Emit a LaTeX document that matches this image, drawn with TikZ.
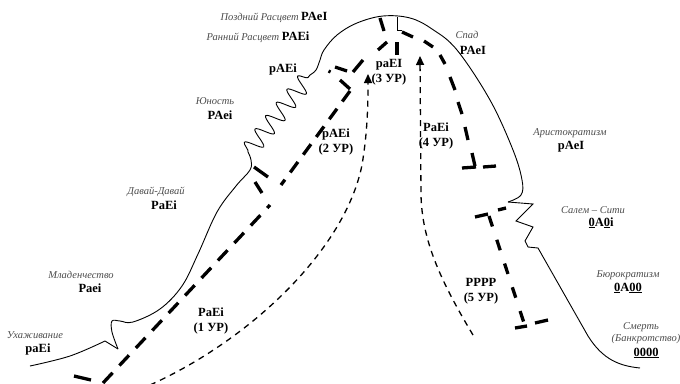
\documentclass[tikz,border=0pt]{standalone}
\usepackage{fontspec}
\setmainfont{Liberation Serif}
\usetikzlibrary{arrows.meta,decorations.pathmorphing}
\newcommand\itx[1]{{\fontsize{10.5}{11}\selectfont\itshape\color{black!70}#1}}
\newcommand\bfx[1]{{\fontsize{12.5}{15}\selectfont\bfseries #1}}
\newcommand\thul[1]{\setbox0=\hbox{#1}\rlap{\rule[-2.2pt]{\wd0}{1.4pt}}\box0}
\begin{document}
\begin{tikzpicture}[x=1pt,y=-1pt,
  it/.style={font=\fontsize{10.5}{11}\selectfont\itshape, text=black!70, inner sep=0pt},
  bf/.style={font=\fontsize{12.5}{15}\selectfont\bfseries, inner sep=0pt},
  ladder/.style={line width=3.3pt, dash pattern=on 14pt off 10pt},
  ladderseg/.style={line width=3.3pt},
  trend/.style={line width=1.3pt, dash pattern=on 6pt off 5pt},
  outline/.style={line width=0.9pt},
  tip/.style={-{Triangle[width=8pt,length=9pt]}}]
\useasboundingbox (0,0) rectangle (680,383);

% ---- main life-cycle curve ----
\draw[outline] plot[smooth,tension=.6] coordinates{(30,366) (70,356) (105,341)};
\draw[outline] (105,341) -- (118,349);
\draw[outline] plot[smooth,tension=.6] coordinates{(118,349) (112,332) (112,321) (120,321) (133,322) (160,309) (182,286) (198,254) (217,212) (236,186) (250,170) (251,160) (248,152)};
\draw[outline, decorate, decoration={snake,segment length=17pt,amplitude=9pt}] (248,152) -- (310,75);
\draw[outline] plot[smooth,tension=.6] coordinates{(310,75) (316,70) (320,60) (324,50) (337,35) (357,23) (383,16) (410,18) (432,29) (457,50) (490,100) (513,150) (522,180) (521,195) (508,202)};
\draw[outline] (508,202) -- (533,204) -- (516,221) -- (533,227) -- (525,241) -- (528,247) -- (538,248) -- (588,336) .. controls (603,360) and (620,366) .. (640,368);
\draw[outline] (397,17) -- (397,30) -- (402,30);

% ---- thick dashed ladder ----
\draw[ladderseg] (74,376) -- (91,380);
\draw[ladder] (103,383) -- (270,205);
\draw[ladderseg] (262,193) -- (255,182);
\draw[ladderseg] (254,167) -- (268,177);
\draw[ladder, dash pattern=on 13pt off 9pt] (350,91) -- (281,185);
\foreach \xa/\ya/\xb/\yb in {340/80/350/89, 328.5/71/330.5/72, 335/67/347/71, 353/72/363/60, 378/50/387/42, 380/18/384/31, 397/42/397/55, 402/32/413/37, 424/41/433/47, 440/55/445/64, 450/77/455/90, 458/102/462/114, 465/127/468/140, 472/153/475/166, 462/168/476/167, 483/167/496/166, 475/217/488/214, 498/210/506/208, 515/328/527/326, 535/323/548/320}
  \draw[ladderseg] (\xa,\ya) -- (\xb,\yb);
\draw[ladder, dash pattern=on 11pt off 14pt] (489,216) -- (525,326);

% ---- thin dashed trends ----
\draw[trend, tip] (150,385) .. controls (250,340) and (345,250) .. (362,165) .. controls (367,135) and (368,110) .. (368,74);
\draw[trend, tip] (473,335) .. controls (440,280) and (422,240) .. (421,195) -- (420,56);

% ---- labels ----
\node[it] (u1) at (35,335) {Ухаживание};
\node[bf] (u2) at (38,349) {paEi};
\node[it] (m1) at (81,275) {Младенчество};
\node[bf] (m2) at (90,288) {Paei};
\node[it] (d1) at (156,192) {Давай-Давай};
\node[bf] (d2) at (164,205) {PaEi};
\node[it] (y1) at (215,101) {Юность};
\node[bf] (y2) at (220,115) {PAei};
\node[bf] (pa) at (283,69) {pAEi};
\node[inner sep=0pt] (rr) at (258,37) {\itx{Ранний Расцвет} \bfx{PAEi}};
\node[inner sep=0pt] (pr) at (274,17) {\itx{Поздний Расцвет} \bfx{PAeI}};
\node[it] (s1) at (467,35) {Спад};
\node[bf] (s2) at (473,50) {PAeI};
\node[it] (a1) at (570,133) {Аристократизм};
\node[bf] (a2) at (571,147) {pAeI};
\node[it] (c1) at (593,210) {Салем – Сити};
\node[bf] (c2) at (601,223) {\thul{0}A\thul{0}i};
\node[it] (b1) at (628,275) {Бюрократизм};
\node[bf] (b2) at (628,288) {\thul{0}A\thul{00}};
\node[it] (x1) at (641,327) {Смерть};
\node[it] (x2) at (646,339) {(Банкротство)};
\node[bf] (x3) at (646,353) {\thul{0000}};
\node[bf, align=center] (lv1) at (211,321) {PaEi\\(1 УР)};
\node[bf, align=center] (lv2) at (336,142) {pAEi\\(2 УР)};
\node[bf, align=center] (lv3) at (389,72) {paEI\\(3 УР)};
\node[bf, align=center] (lv4) at (436,136) {PaEi\\(4 УР)};
\node[bf, align=center] (lv5) at (481,291) {PPPP\\(5 УР)};
\end{tikzpicture}
\end{document}
